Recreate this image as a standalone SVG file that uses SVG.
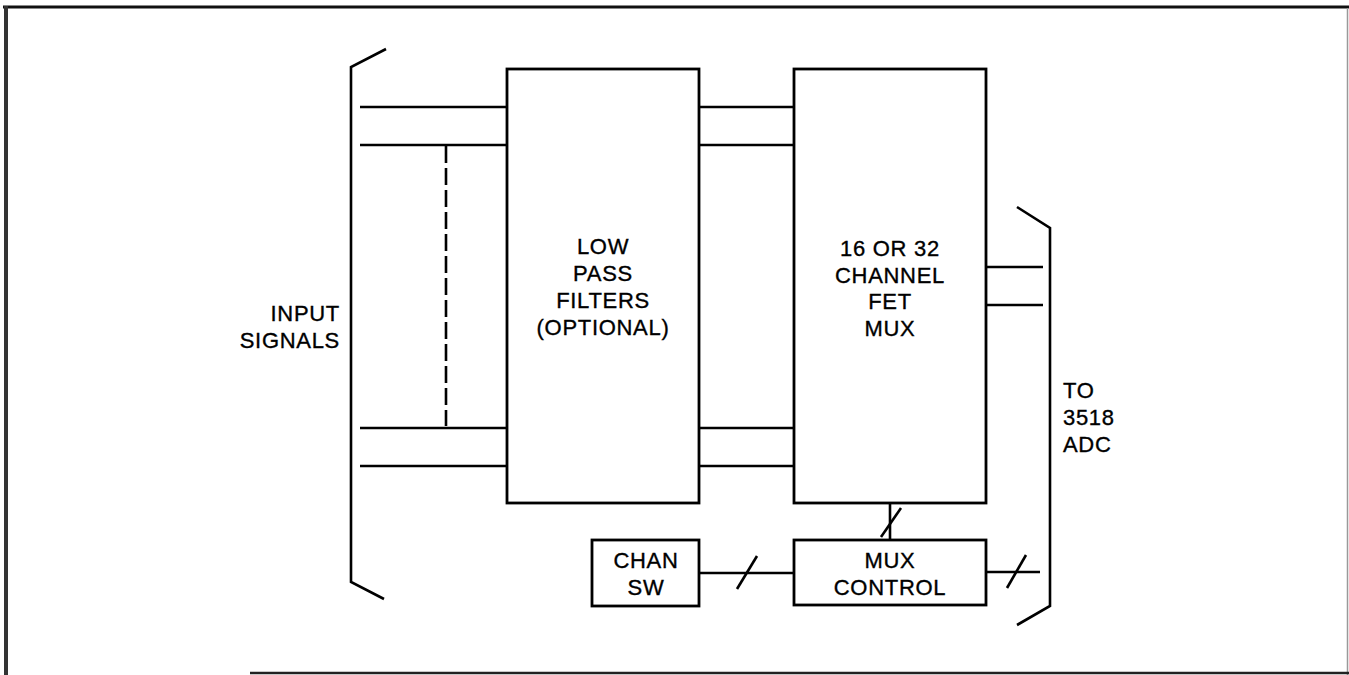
<svg xmlns="http://www.w3.org/2000/svg" width="1349" height="675" viewBox="0 0 1349 675">
<style>
.ln{stroke:#000;stroke-width:2.6;fill:none;stroke-linecap:butt}
.box{stroke:#000;stroke-width:2.8;fill:#fff}
.t{font-family:"Liberation Sans",Arial,sans-serif;font-size:22px;letter-spacing:0.7px;fill:#000;stroke:#000;stroke-width:0.35px}
.c{text-anchor:middle}
.r{text-anchor:end}
</style>
<rect width="1349" height="675" fill="#fff"/>
<g id="frame">
<line x1="3" y1="7" x2="1349" y2="7" stroke="#111" stroke-width="3"/>
<line x1="6" y1="6" x2="6" y2="675" stroke="#333" stroke-width="4"/>
<line x1="1347.5" y1="8" x2="1347.5" y2="675" stroke="#999" stroke-width="1.5"/>
<line x1="250" y1="673" x2="1349" y2="673" stroke="#222" stroke-width="2.5"/>
</g>
<g id="connectors">
<polyline class="ln" points="386,49 351,67 351,582 384,599"/>
<line class="ln" x1="360" y1="107" x2="507" y2="107"/>
<line class="ln" x1="360" y1="145" x2="507" y2="145"/>
<line class="ln" x1="360" y1="428" x2="507" y2="428"/>
<line class="ln" x1="360" y1="466" x2="507" y2="466"/>
<line class="ln" x1="446" y1="146" x2="446" y2="426" stroke-dasharray="17 5"/>
<line class="ln" x1="699" y1="107" x2="794" y2="107"/>
<line class="ln" x1="699" y1="145" x2="794" y2="145"/>
<line class="ln" x1="699" y1="428" x2="794" y2="428"/>
<line class="ln" x1="699" y1="466" x2="794" y2="466"/>
<line class="ln" x1="986" y1="267" x2="1043" y2="267"/>
<line class="ln" x1="986" y1="305" x2="1043" y2="305"/>
<polyline class="ln" points="1017,207 1050,228 1050,606 1017,625"/>
<line class="ln" x1="699" y1="573" x2="794" y2="573"/>
<line class="ln" x1="737" y1="589" x2="757" y2="556"/>
<line class="ln" x1="890" y1="503" x2="890" y2="540"/>
<line class="ln" x1="881" y1="537" x2="901" y2="508"/>
<line class="ln" x1="986" y1="572" x2="1040" y2="572"/>
<line class="ln" x1="1007" y1="588" x2="1026" y2="555"/>
</g>
<g id="lpf">
<rect class="box" x="507" y="69" width="192" height="434"/>
<text class="t c" x="603" y="254">LOW</text>
<text class="t c" x="603" y="281">PASS</text>
<text class="t c" x="603" y="308">FILTERS</text>
<text class="t c" x="603" y="335">(OPTIONAL)</text>
</g>
<g id="mux">
<rect class="box" x="794" y="69" width="192" height="434"/>
<text class="t c" x="890" y="256">16 OR 32</text>
<text class="t c" x="890" y="283">CHANNEL</text>
<text class="t c" x="890" y="309">FET</text>
<text class="t c" x="890" y="336">MUX</text>
</g>
<g id="chansw">
<rect class="box" x="592" y="540" width="107" height="66"/>
<text class="t c" x="646" y="568">CHAN</text>
<text class="t c" x="646" y="595">SW</text>
</g>
<g id="muxcontrol">
<rect class="box" x="794" y="540" width="192" height="65"/>
<text class="t c" x="890" y="568">MUX</text>
<text class="t c" x="890" y="595">CONTROL</text>
</g>
<g id="input-label">
<text class="t r" x="340" y="321">INPUT</text>
<text class="t r" x="340" y="348">SIGNALS</text>
</g>
<g id="adc-label">
<text class="t" x="1063" y="398">TO</text>
<text class="t" x="1063" y="425">3518</text>
<text class="t" x="1063" y="452">ADC</text>
</g>
</svg>
